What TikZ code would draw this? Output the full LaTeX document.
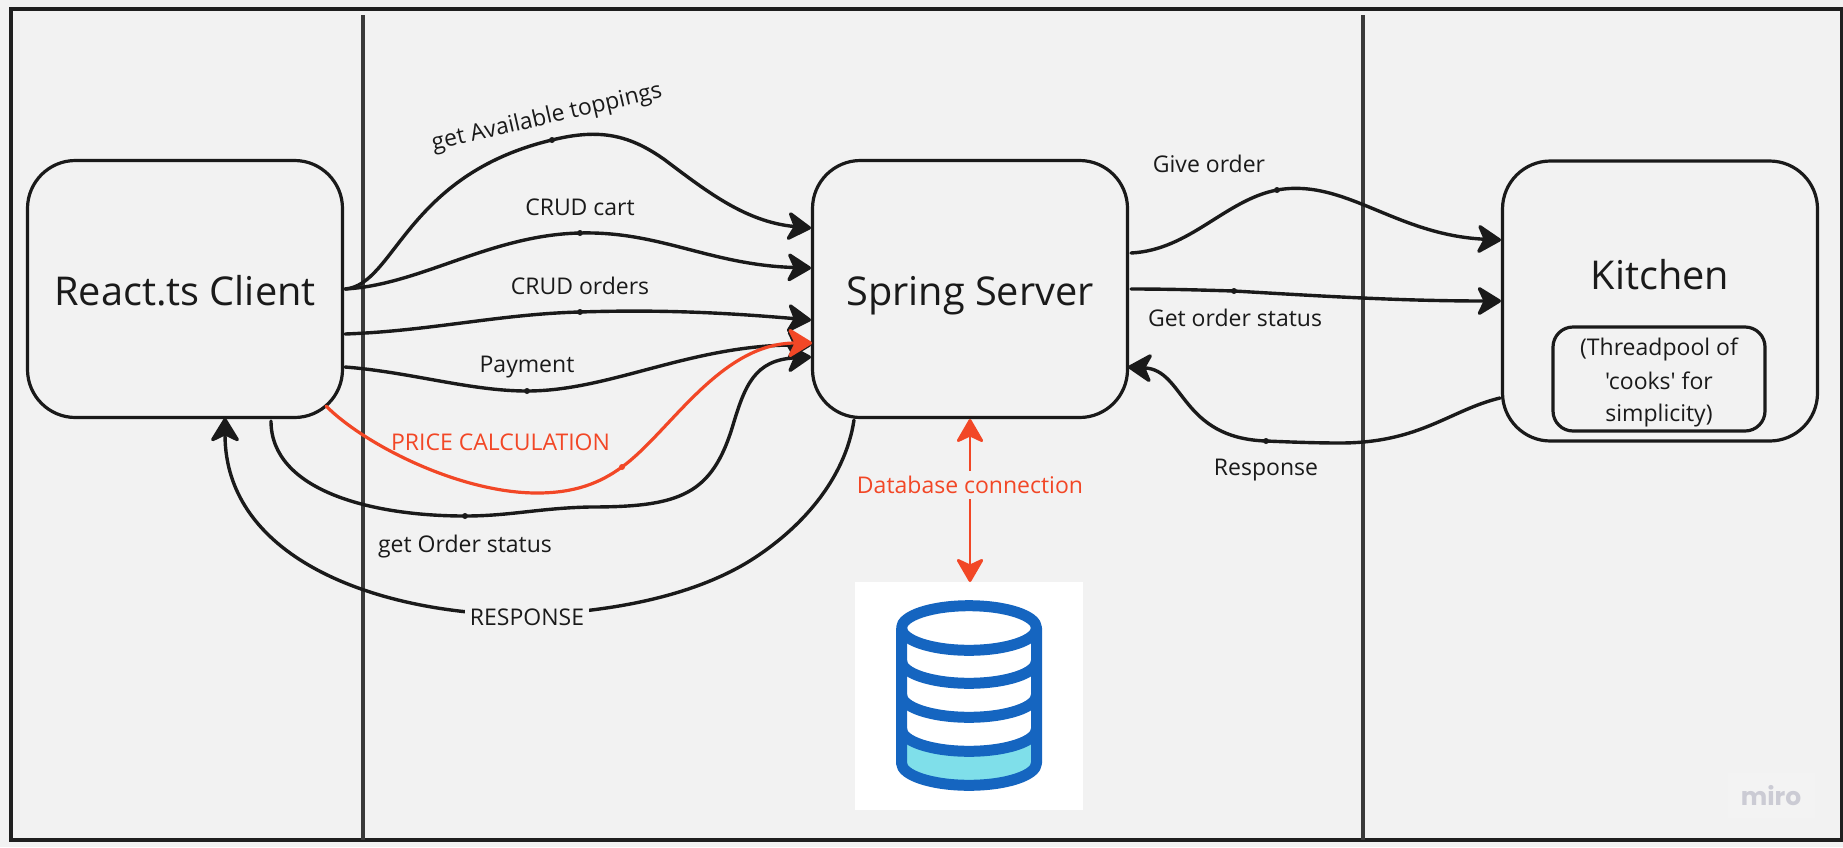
\documentclass[tikz,border=0pt]{standalone}
\usepackage{fontspec}
\setmainfont{Open Sans}
\newfontfamily\poolfont{Open Sans}
\newfontfamily\mirofont{Poppins}
\usetikzlibrary{arrows.meta,calc}
\definecolor{bg}{HTML}{F2F2F2}
\definecolor{ink}{HTML}{1A1A1A}
\definecolor{redc}{HTML}{F24726}
\definecolor{framec}{HTML}{1F1F1F}
\definecolor{rulec}{HTML}{3A3A3A}
\definecolor{dbblue}{HTML}{1565C0}
\definecolor{dbcyan}{HTML}{7FDFEA}
\definecolor{miroc}{HTML}{CBCBD4}
\tikzset{
  box/.style={draw=ink,line width=3.2pt,fill=bg,rounded corners=48pt,inner sep=0pt,text=ink,text height=36pt,text depth=4pt,font=\fontsize{39.7}{46}\selectfont},
  lbl/.style={inner sep=0pt,text=ink,font=\fontsize{23}{28}\selectfont},
  redlbl/.style={lbl,text=redc},
  conn/.style={draw=ink,line width=3.4pt,line cap=round},
  tipped/.style={conn,-{Stealth[length=27pt,width=33pt,inset=8pt,round]}},
  redconn/.style={draw=redc,line width=3.2pt,line cap=round,-{Stealth[length=27pt,width=33pt,inset=8pt,round]}},
  dbline/.style={draw=redc,line width=2.8pt,{Stealth[length=26pt,width=30pt,inset=7pt,round]}-{Stealth[length=26pt,width=30pt,inset=7pt,round]}},
  dbstroke/.style={draw=dbblue,line width=11pt,line join=round},
  dotc/.style={fill=ink},
}
\begin{document}
\begin{tikzpicture}[x=1pt,y=-1pt]
\useasboundingbox (0,0) rectangle (1843,847);
\fill[bg] (0,0) rectangle (1843,847);
% frame and swimlane rules
\draw[framec,line width=3.4pt] (11,9) rectangle (1841.5,840);
\draw[rulec,line width=3.2pt] (363,15) -- (363,840);
\draw[rulec,line width=3.2pt] (1363,15) -- (1363,840);
% boxes
\node[box,minimum width=315pt,minimum height=257pt] (react) at (185,289) {React.ts Client};
\node[box,minimum width=315pt,minimum height=257pt] (spring) at (970,289) {Spring Server};
\node[box,minimum width=315pt,minimum height=280pt] (kitchen) at (1660,301) {};
\node[box,draw=none,fill=none,rounded corners=0pt] (kitchenlbl) at (1660,273) {Kitchen};
\node[draw=ink,line width=3.2pt,rounded corners=20pt,minimum width=212pt,minimum height=104pt,inner sep=0pt] (pool) at (1659,379) {};
\node[lbl] (pool1) at (1659,349.5) {(Threadpool of};
\node[lbl,font=\poolfont\fontsize{23}{28}\selectfont] (pool2) at (1659,381) {'cooks' for};
\node[lbl] (pool3) at (1659,415.5) {simplicity)};
% connector ends
\coordinate (a1) at (345,289);
\coordinate (a3) at (345,334);
\coordinate (a4) at (345,367);
\coordinate (a5) at (326,406);
\coordinate (a6) at (271,421);
\coordinate (a7) at (225,418);
\coordinate (b1) at (811,228);
\coordinate (b2) at (811,268);
\coordinate (b3) at (811,320);
\coordinate (b4) at (811,345);
\coordinate (b5) at (812,343);
\coordinate (b6) at (811,357);
\coordinate (b7) at (854,420);
\coordinate (s1) at (1131,253);
\coordinate (s2) at (1131,289);
\coordinate (s3) at (1128,367);
\coordinate (k1) at (1501,240);
\coordinate (k2) at (1501,301);
\coordinate (k3) at (1500,398);
\coordinate (dbt) at (970,419);
\coordinate (dbb) at (970,582);
% database
\fill[white] (855,582) rectangle (1083,810);
\path[fill=dbcyan] (901.5,729) arc[start angle=180,end angle=360,x radius=67.5pt,y radius=22.3pt] -- (1036,763) arc[start angle=0,end angle=-180,x radius=67.5pt,y radius=22.3pt] -- cycle;
\draw[dbstroke] (969,628) ellipse[x radius=67.5pt,y radius=22.3pt];
\draw[dbstroke] (901.5,628) -- (901.5,763) arc[start angle=180,end angle=360,x radius=67.5pt,y radius=22.3pt] -- (1036.5,628);
\draw[dbstroke] (901.5,661) arc[start angle=180,end angle=360,x radius=67.5pt,y radius=22.3pt];
\draw[dbstroke] (901.5,695) arc[start angle=180,end angle=360,x radius=67.5pt,y radius=22.3pt];
\draw[dbstroke] (901.5,729) arc[start angle=180,end angle=360,x radius=67.5pt,y radius=22.3pt];
% client to server
\draw[tipped] (a1) .. controls (395,285) and (405,175) .. (552,140) .. controls (600,128) and (630,135) .. (665,160) .. controls (705,190) and (745,222) .. (b1);
\draw[tipped] (a1) .. controls (420,285) and (490,235) .. (580,233) .. controls (660,231) and (710,265) .. (b2);
\draw[tipped] (a3) .. controls (430,331) and (500,314) .. (580,312) .. controls (670,309) and (740,314) .. (b3);
\draw[tipped] (a4) .. controls (410,372) and (470,391) .. (527,391) .. controls (610,391) and (690,345) .. (b4);
\draw[tipped] (a6) .. controls (271,490) and (370,516) .. (465,516) .. controls (510,516) and (540,508) .. (590,507) .. controls (680,507) and (712,495) .. (733,425) .. controls (745,385) and (755,360) .. (b6);
\draw[redconn] (a5) .. controls (365,445) and (460,493) .. (537,493) .. controls (575,493) and (600,483) .. (622,467) .. controls (670,432) and (720,343) .. (b5);
\draw[tipped] (b7) .. controls (845,480) and (800,530) .. (748,562) .. controls (690,597) and (610,612) .. (527,615) .. controls (380,615) and (225,560) .. (a7);
% server to kitchen
\draw[tipped] (s1) .. controls (1190,250) and (1225,200) .. (1277,190) .. controls (1345,178) and (1395,235) .. (k1);
\draw[tipped] (s2) .. controls (1170,289) and (1200,290) .. (1234,291) .. controls (1320,296) and (1400,301) .. (k2);
\draw[tipped] (k3) .. controls (1450,410) and (1420,443) .. (1340,443) .. controls (1315,443) and (1290,442) .. (1266,441) .. controls (1180,438) and (1185,370) .. (s3);
\draw[dbline] (dbt) -- (dbb);
% dots
\fill[dotc] (552,140) circle[radius=3pt];
\fill[dotc] (580,233) circle[radius=3pt];
\fill[dotc] (580,312) circle[radius=3pt];
\fill[dotc] (527,391) circle[radius=3pt];
\fill[dotc] (465,516) circle[radius=3pt];
\fill[redc] (622,467) circle[radius=3pt];
\fill[dotc] (1277,190) circle[radius=3pt];
\fill[dotc] (1234,291) circle[radius=3pt];
\fill[dotc] (1266,441) circle[radius=3pt];
% labels
\node[lbl,rotate=13] (l1) at (547,118) {get Available toppings};
\node[lbl] (l2) at (580,207) {CRUD cart};
\node[lbl] (l3) at (580,286) {CRUD orders};
\node[lbl] (l4) at (527,367) {Payment};
\node[redlbl] (l5) at (500.5,442) {PRICE CALCULATION};
\node[lbl] (l6) at (465,546.5) {get Order status};
\node[lbl,fill=bg,inner xsep=5pt,inner ysep=3pt] (l7) at (527,617) {RESPONSE};
\node[lbl] (l8) at (1209,164) {Give order};
\node[lbl] (l9) at (1235,318) {Get order status};
\node[lbl] (l10) at (1266,470) {Response};
\node[redlbl,fill=bg,inner xsep=0pt,inner ysep=5pt] (l11) at (970,485) {Database connection};
% watermark
\fill[white,opacity=.15] (1728,773) rectangle (1815,818);
\node[inner sep=0pt,text=miroc,font=\mirofont\bfseries\fontsize{25}{30}\selectfont] (miro) at (1771,796) {miro};
\end{tikzpicture}
\end{document}
